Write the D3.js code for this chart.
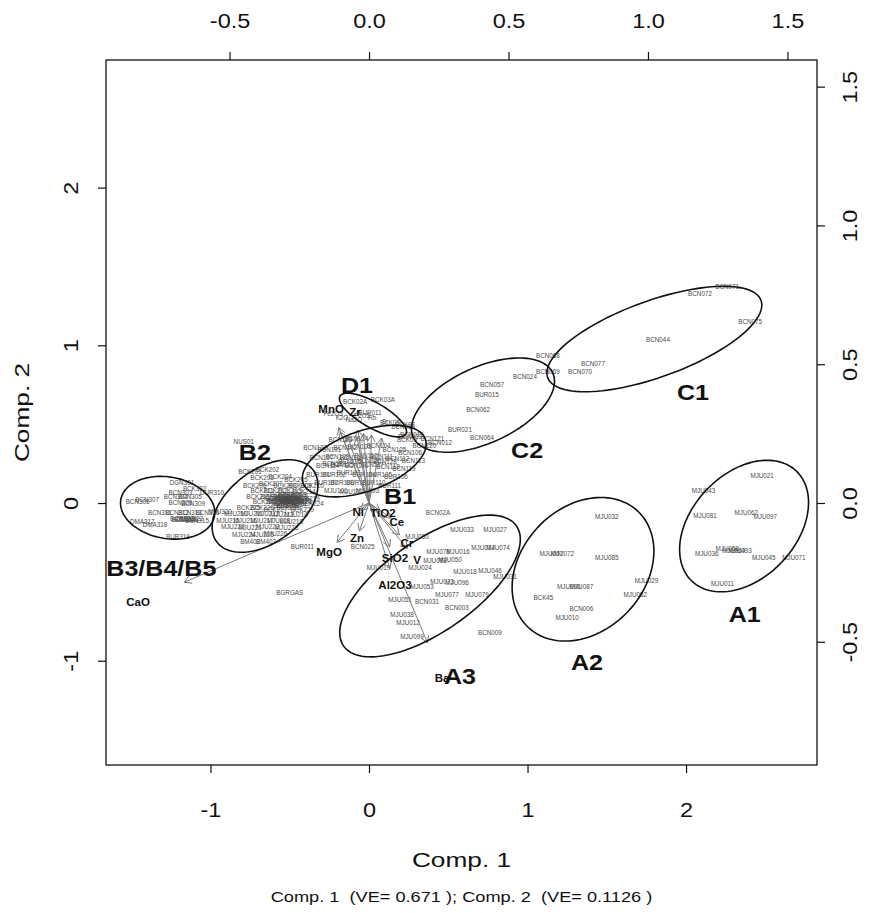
<!DOCTYPE html>
<html>
<head>
<meta charset="utf-8">
<script src="https://cdn.jsdelivr.net/npm/d3@7"></script>
<style>
body { margin: 0; background: #fff; }
text { font-family: "Liberation Sans", Arial, sans-serif; }
</style>
</head>
<body>
<div id="chart-area"></div>
<script>
// sample scores (Comp. 1, Comp. 2), one array per group
var groupA1 = [
    ["MJU021", 2.48, 0.17], ["MJU043", 2.11, 0.08], ["MJU081", 2.12, -0.08], ["MJU062", 2.38, -0.06],
    ["MJU097", 2.50, -0.09], ["MJU036", 2.13, -0.32], ["MJU058", 2.26, -0.29], ["MJU064", 2.30, -0.30],
    ["MJU093", 2.34, -0.30], ["MJU045", 2.49, -0.35], ["MJU071", 2.68, -0.35], ["MJU011", 2.23, -0.51]
];
var groupA2 = [
    ["MJU032", 1.50, -0.09], ["MJU067", 1.15, -0.32], ["MJU072", 1.22, -0.32], ["MJU085", 1.50, -0.35],
    ["MJU029", 1.75, -0.49], ["MJU090", 1.26, -0.53], ["MJU087", 1.34, -0.53], ["BCK45", 1.10, -0.60],
    ["BCN006", 1.34, -0.67], ["MJU010", 1.25, -0.73], ["MJU052", 1.68, -0.58]
];
var groupA3 = [
    ["BCN02A", 0.435, -0.063], ["MJU033", 0.587, -0.171], ["MJU027", 0.795, -0.171], ["MJU080", 0.303, -0.216],
    ["MJU078", 0.435, -0.311], ["MJU016", 0.562, -0.311], ["MJU014", 0.719, -0.285], ["MJU074", 0.814, -0.285],
    ["MJU088", 0.416, -0.368], ["MJU050", 0.511, -0.361], ["MJU018", 0.606, -0.438], ["MJU046", 0.763, -0.431],
    ["MJU031", 0.858, -0.469], ["MJU073", 0.461, -0.501], ["MJU096", 0.555, -0.507], ["MJU053", 0.334, -0.533],
    ["MJU077", 0.492, -0.583], ["MJU079", 0.681, -0.583], ["BCN031", 0.366, -0.628], ["BCN003", 0.555, -0.666],
    ["MJU051", 0.196, -0.615], ["MJU038", 0.208, -0.710], ["MJU012", 0.246, -0.761], ["MJU099", 0.271, -0.850],
    ["BCN009", 0.763, -0.824], ["MJU024", 0.322, -0.412], ["BCN025", -0.04, -0.28], ["MJU019", 0.06, -0.41]
];
var groupC1 = [
    ["BCN071", 2.259, 1.370], ["BCN072", 2.088, 1.325], ["BCN075", 2.404, 1.148], ["BCN044", 1.823, 1.034],
    ["BCN077", 1.413, 0.881], ["BCN070", 1.331, 0.831], ["BCN068", 1.129, 0.932], ["BCN069", 1.129, 0.831]
];
var groupC2 = [
    ["BCN024", 0.984, 0.799], ["BCN057", 0.776, 0.748], ["BUR015", 0.744, 0.685], ["BCN062", 0.688, 0.590],
    ["BUR021", 0.574, 0.463], ["BCN064", 0.713, 0.412], ["BCN012", 0.448, 0.380], ["BCN033", 0.259, 0.419],
    ["BCN019", 0.215, 0.482]
];
var groupD1 = [
    ["BCK02A", -0.088, 0.640], ["BCK03A", 0.088, 0.653], ["BUR011", 0.006, 0.571], ["BCK05", 0.132, 0.507],
    ["BCK07", 0.227, 0.495], ["BCN015", 0.271, 0.431], ["BCK09", 0.240, 0.399]
];
var groupB1 = [
    ["BCN101", -0.25, 0.34], ["BCN102", -0.15, 0.35], ["BCN103", -0.06, 0.355], ["BCN104", 0.06, 0.36],
    ["BCN105", 0.16, 0.34], ["BCN106", 0.26, 0.32], ["BCN107", -0.30, 0.285], ["BCN108", -0.20, 0.29],
    ["BCN109", -0.11, 0.285], ["BCN110", -0.02, 0.30], ["BCN111", 0.08, 0.29], ["BCN112", 0.18, 0.28],
    ["BCN113", 0.28, 0.27], ["BCN114", -0.26, 0.235], ["BCN115", -0.17, 0.24], ["BCN116", -0.08, 0.235],
    ["BCN117", 0.02, 0.24], ["BCN118", 0.12, 0.23], ["BCN119", 0.22, 0.215], ["BUR101", -0.32, 0.18],
    ["BUR102", -0.22, 0.18], ["BUR103", -0.13, 0.19], ["BUR104", -0.03, 0.18], ["BUR105", 0.07, 0.18],
    ["BUR106", 0.17, 0.165], ["BUR107", -0.27, 0.13], ["BUR108", -0.17, 0.13], ["BUR109", -0.07, 0.13],
    ["BUR110", 0.03, 0.13], ["BUR111", 0.13, 0.11], ["MJU101", -0.21, 0.08], ["MJU102", -0.11, 0.07],
    ["MJU103", -0.01, 0.076], ["BCN120", 0.35, 0.36], ["BCN121", 0.40, 0.41], ["BCN122", -0.34, 0.35],
    ["BCN123", -0.18, 0.40], ["BCN124", -0.08, 0.41], ["BCN125", -0.12, 0.26], ["BCN126", 0.0, 0.27],
    ["BCN127", -0.22, 0.25], ["BCN128", 0.10, 0.26]
];
var groupB2 = [
    ["BCK201", -0.75, 0.20], ["BCK202", -0.64, 0.21], ["BCK203", -0.675, 0.16], ["BCK204", -0.56, 0.165],
    ["BCK205", -0.46, 0.15], ["BCK206", -0.72, 0.11], ["BCK207", -0.62, 0.12], ["BCK208", -0.53, 0.11],
    ["BCK209", -0.435, 0.11], ["BCK210", -0.36, 0.11], ["BCK211", -0.675, 0.076], ["BCK212", -0.59, 0.08],
    ["BCK213", -0.50, 0.076], ["BCK214", -0.41, 0.07], ["BCK215", -0.70, 0.04], ["BCK216", -0.61, 0.04],
    ["BCK217", -0.54, 0.03], ["BCK218", -0.46, 0.04], ["BCK219", -0.385, 0.03], ["BCK220", -0.66, 0.006],
    ["BCK221", -0.57, 0.006], ["BCK222", -0.50, 0.0], ["BCK223", -0.435, 0.006], ["BCK224", -0.36, -0.006],
    ["BCK225", -0.76, -0.03], ["BCK226", -0.675, -0.03], ["BCK227", -0.59, -0.04], ["BCK228", -0.51, -0.03],
    ["BCK229", -0.42, -0.04], ["MJU210", -0.84, -0.07], ["MJU211", -0.74, -0.07], ["MJU212", -0.64, -0.07],
    ["MJU213", -0.55, -0.076], ["MJU214", -0.46, -0.076], ["MJU215", -0.89, -0.11], ["MJU216", -0.78, -0.114],
    ["MJU217", -0.675, -0.11], ["MJU218", -0.57, -0.114], ["MJU219", -0.49, -0.12], ["MJU220", -0.86, -0.15],
    ["MJU221", -0.75, -0.16], ["MJU222", -0.64, -0.15], ["MJU223", -0.52, -0.16], ["MJU224", -0.79, -0.20],
    ["MJU225", -0.675, -0.20], ["MJU226", -0.59, -0.197], ["BM402", -0.75, -0.247], ["BM403", -0.65, -0.247],
    ["BUR011", -0.42, -0.28], ["NUS01", -0.79, 0.39], ["BGRGAS", -0.50, -0.57],
    ["BCK230", -0.52, 0.02], ["BCK231", -0.48, 0.01], ["BCK232", -0.55, 0.05], ["BCK233", -0.50, 0.045],
    ["BCK234", -0.47, -0.01], ["BCK235", -0.53, -0.015], ["BCK236", -0.45, 0.025], ["BCK237", -0.58, 0.025],
    ["BCK238", -0.51, 0.035], ["BCK239", -0.49, 0.015], ["BCK240", -0.54, 0.0], ["BCK241", -0.46, 0.005],
    ["BCK242", -0.52, -0.005], ["BCK243", -0.48, 0.03], ["BCK244", -0.56, 0.015], ["BCK245", -0.44, 0.012],
    ["BCK246", -0.50, 0.022], ["BCK247", -0.53, 0.04], ["BCK248", -0.47, 0.05], ["BCK249", -0.51, -0.02]
];
var groupB345 = [
    ["DGN301", -1.18, 0.127], ["BCK302", -1.10, 0.089], ["BCN303", -1.19, 0.063], ["BCN304", -1.22, 0.038],
    ["BCN305", -1.13, 0.038], ["BCN306", -1.46, 0.006], ["BCN307", -1.40, 0.019], ["BCN308", -1.19, 0.0],
    ["BCN309", -1.11, -0.006], ["DUR310", -0.99, 0.063], ["BCN311", -1.32, -0.063], ["BCN312", -1.21, -0.063],
    ["BCN313", -1.13, -0.063], ["BCN314", -1.17, -0.108], ["BCN315", -1.085, -0.114], ["BCN316", -1.02, -0.063],
    ["DMA317", -1.43, -0.12], ["DMA318", -1.35, -0.14], ["BUR319", -1.205, -0.216], ["MJU320", -0.94, -0.057],
    ["BCN321", -1.15, -0.105], ["BCN322", -1.12, -0.10], ["BCN323", -1.18, -0.10]
];

// variable loadings (label positions, secondary axes)
var loadings = [
    ["MnO", -0.136, 0.339], ["Zr", -0.050, 0.328], ["Ni", -0.039, -0.032], ["TiO2", 0.050, -0.036],
    ["Ce", 0.100, -0.068], ["Zn", -0.043, -0.126], ["MgO", -0.143, -0.177], ["Cr", 0.136, -0.144],
    ["SiO2", 0.093, -0.198], ["V", 0.172, -0.205], ["Al2O3", 0.093, -0.295], ["Ba", 0.262, -0.630],
    ["CaO", -0.828, -0.357]
];
// loadings whose labels are lost in the sample labels
var minorLoadings = [
    ["Fe2O3", -0.129, 0.321], ["K2O", -0.097, 0.306], ["Na2O", -0.054, 0.299],
    ["P2O5", -0.025, 0.313], ["Rb", 0.011, 0.306], ["Sr", 0.057, 0.292]
];

// group ellipses: centre x, centre y, semi-axis a, semi-axis b, angle (deg)
var ellipses = [
    ["B3/B4/B5", -1.27, -0.03, 0.30, 0.195, -10],
    ["B2", -0.656, -0.019, 0.38, 0.23, 37],
    ["B1", -0.03, 0.266, 0.41, 0.19, 20],
    ["D1", 0.025, 0.558, 0.24, 0.08, -30],
    ["C2", 0.719, 0.621, 0.485, 0.24, 25],
    ["C1", 1.80, 1.04, 0.716, 0.242, 20],
    ["A3", 0.385, -0.526, 0.665, 0.29, 35],
    ["A2", 1.35, -0.42, 0.505, 0.39, 47],
    ["A1", 2.366, -0.146, 0.48, 0.33, 47]
];
var groupLabels = [
    ["D1", -0.076, 0.748], ["B2", -0.72, 0.323], ["C2", 0.997, 0.336], ["C1", 2.044, 0.704],
    ["B1", 0.196, 0.044], ["B3/B4/B5", -1.31, -0.41], ["A3", 0.574, -1.097], ["A2", 1.375, -1.008],
    ["A1", 2.37, -0.704]
];

var xTicks = [-1, 0, 1, 2];
var yTicks = [-1, 0, 1, 2];
var x2Ticks = [-0.5, 0, 0.5, 1, 1.5];
var y2Ticks = [-0.5, 0, 0.5, 1, 1.5];

var W = 870, H = 913;
var mLeft = 106, mRight = 817, mTop = 60, mBottom = 765;

var svg = d3.select("#chart-area")
    .append("svg")
    .attr("width", W)
    .attr("height", H);

var x = d3.scaleLinear().domain([-1.659, 2.826]).range([mLeft, mRight]);
var y = d3.scaleLinear().domain([-1.661, 2.809]).range([mBottom, mTop]);
var x2 = d3.scaleLinear().domain([-0.943, 1.606]).range([mLeft, mRight]);
var y2 = d3.scaleLinear().domain([-0.944, 1.596]).range([mBottom, mTop]);

svg.append("clipPath").attr("id", "plotclip")
    .append("rect")
    .attr("x", mLeft).attr("y", mTop)
    .attr("width", mRight - mLeft).attr("height", mBottom - mTop);

var plot = svg.append("g").attr("clip-path", "url(#plotclip)");

// sample labels
var samples = [].concat(groupA1, groupA2, groupA3, groupC1, groupC2, groupD1, groupB1, groupB2, groupB345);
plot.selectAll("text.sample")
    .data(samples)
    .enter()
    .append("text")
    .attr("class", "sample")
    .attr("x", function(d) { return x(d[1]); })
    .attr("y", function(d) { return y(d[2]); })
    .attr("dy", "0.35em")
    .attr("text-anchor", "middle")
    .attr("font-size", 6.3)
    .attr("fill", "#4a4a4a")
    .text(function(d) { return d[0]; });

// arrows
function drawArrow(d) {
    var x0 = x2(0), y0 = y2(0);
    var x1 = x2(d[1] * 0.8), y1 = y2(d[2] * 0.8);
    var ang = Math.atan2(y1 - y0, x1 - x0);
    var len = 8, spread = Math.PI / 6;
    plot.append("line")
        .attr("x1", x0).attr("y1", y0).attr("x2", x1).attr("y2", y1)
        .attr("stroke", "#7a7a7a").attr("stroke-width", 1);
    [ang + Math.PI - spread, ang + Math.PI + spread].forEach(function(a) {
        plot.append("line")
            .attr("x1", x1).attr("y1", y1)
            .attr("x2", x1 + len * Math.cos(a)).attr("y2", y1 + len * Math.sin(a))
            .attr("stroke", "#7a7a7a").attr("stroke-width", 1);
    });
}
loadings.forEach(drawArrow);
minorLoadings.forEach(drawArrow);

plot.selectAll("text.minor")
    .data(minorLoadings)
    .enter()
    .append("text")
    .attr("class", "minor")
    .attr("x", function(d) { return x2(d[1]); })
    .attr("y", function(d) { return y2(d[2]); })
    .attr("dy", "0.35em")
    .attr("text-anchor", "middle")
    .attr("font-size", 6.3)
    .attr("fill", "#4a4a4a")
    .text(function(d) { return d[0]; });

plot.selectAll("text.var")
    .data(loadings)
    .enter()
    .append("text")
    .attr("class", "var")
    .attr("x", function(d) { return x2(d[1]); })
    .attr("y", function(d) { return y2(d[2]); })
    .attr("dy", "0.35em")
    .attr("text-anchor", "middle")
    .attr("font-size", 11.5)
    .attr("font-weight", "bold")
    .attr("fill", "#111")
    .text(function(d) { return d[0]; });

// ellipses
var line = d3.line();
plot.selectAll("path.ell")
    .data(ellipses)
    .enter()
    .append("path")
    .attr("class", "ell")
    .attr("d", function(d) {
        var th = d[5] * Math.PI / 180, pts = [];
        for (var i = 0; i <= 120; i++) {
            var t = i / 120 * 2 * Math.PI;
            var ex = d[1] + d[3] * Math.cos(t) * Math.cos(th) - d[4] * Math.sin(t) * Math.sin(th);
            var ey = d[2] + d[3] * Math.cos(t) * Math.sin(th) + d[4] * Math.sin(t) * Math.cos(th);
            pts.push([x(ex), y(ey)]);
        }
        return line(pts) + "Z";
    })
    .attr("fill", "none")
    .attr("stroke", "#111")
    .attr("stroke-width", 1.6);

plot.selectAll("text.grp")
    .data(groupLabels)
    .enter()
    .append("text")
    .attr("class", "grp")
    .attr("transform", function(d) {
        return "translate(" + x(d[1]) + "," + y(d[2]) + ") scale(1.14,1)";
    })
    .attr("dy", "0.36em")
    .attr("text-anchor", "middle")
    .attr("font-size", 22)
    .attr("font-weight", "bold")
    .attr("fill", "#111")
    .text(function(d) { return d[0]; });

// box
svg.append("rect")
    .attr("x", mLeft).attr("y", mTop)
    .attr("width", mRight - mLeft).attr("height", mBottom - mTop)
    .attr("fill", "none").attr("stroke", "#111").attr("stroke-width", 1.3);

// axes (R style hyphen minus)
function fmt(spec) {
    var f = d3.format(spec);
    return function(d) { return f(d).replace("\u2212", "-"); };
}
var gB = svg.append("g").attr("transform", "translate(0," + mBottom + ")")
    .call(d3.axisBottom(x).tickValues(xTicks).tickSize(8).tickFormat(fmt("d")));
var gT = svg.append("g").attr("transform", "translate(0," + mTop + ")")
    .call(d3.axisTop(x2).tickValues(x2Ticks).tickSize(8).tickFormat(fmt(".1f")));
var gL = svg.append("g").attr("transform", "translate(" + mLeft + ",0)")
    .call(d3.axisLeft(y).tickValues(yTicks).tickSize(8).tickFormat(fmt("d")));
var gR = svg.append("g").attr("transform", "translate(" + mRight + ",0)")
    .call(d3.axisRight(y2).tickValues(y2Ticks).tickSize(8).tickFormat(fmt(".1f")));

[gB, gT, gL, gR].forEach(function(g) {
    g.select(".domain").remove();
    g.selectAll("line").attr("stroke", "#111").attr("stroke-width", 1.2);
    g.selectAll("text").attr("font-size", 21).attr("fill", "#111")
        .attr("x", 0).attr("y", 0).attr("dy", 0).attr("text-anchor", "middle")
        .style("font-family", "'Liberation Sans', Arial, sans-serif");
});
gB.selectAll("text").attr("transform", "translate(0,52) scale(1.12,1)");
gT.selectAll("text").attr("transform", "translate(0,-32) scale(1.12,1)");
gL.selectAll("text").attr("transform", "translate(-28,0) rotate(-90) scale(1.12,1)");
gR.selectAll("text").attr("transform", "translate(40,0) rotate(-90) scale(1.12,1)");

// titles
svg.append("text")
    .attr("transform", "translate(" + ((mLeft + mRight) / 2) + ",867) scale(1.25,1)")
    .attr("text-anchor", "middle").attr("font-size", 21).attr("fill", "#111")
    .text("Comp. 1");
svg.append("text")
    .attr("transform", "translate(29," + ((mTop + mBottom) / 2) + ") rotate(-90) scale(1.25,1)")
    .attr("text-anchor", "middle").attr("font-size", 21).attr("fill", "#111")
    .text("Comp. 2");
svg.append("text")
    .attr("transform", "translate(" + ((mLeft + mRight) / 2) + ",902) scale(1.3,1)")
    .attr("text-anchor", "middle").attr("font-size", 14).attr("fill", "#111")
    .style("white-space", "pre")
    .text("Comp. 1  (VE= 0.671 ); Comp. 2  (VE= 0.1126 )");
</script>
</body>
</html>
